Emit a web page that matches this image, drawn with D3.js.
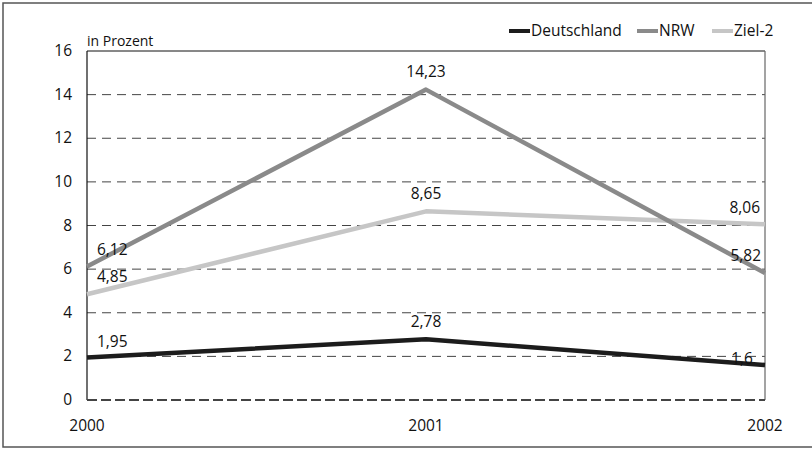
<!DOCTYPE html>
<html>
<head>
<meta charset="utf-8">
<script src="https://cdn.jsdelivr.net/npm/d3@7"></script>
<style>
  body { margin: 0; background: #fff; }
  text { font-family: "Open Sans", sans-serif; fill: #111; }
</style>
</head>
<body>
<div id="chart"></div>
<script>
const years = ["2000", "2001", "2002"];
const deutschland = [1.95, 2.78, 1.6];
const nrw = [6.12, 14.23, 5.82];
const ziel2 = [4.85, 8.65, 8.06];
const yTicks = [0, 2, 4, 6, 8, 10, 12, 14, 16];

const WIDTH = 812, HEIGHT = 449;
const LEFT = 87, RIGHT = 765, TOP = 51, BOTTOM = 400;
const FS = "15.5px";

const series = [
  {name: "Deutschland", values: deutschland, color: "#1c1c1c"},
  {name: "NRW", values: nrw, color: "#8a8a8a"},
  {name: "Ziel-2", values: ziel2, color: "#c6c6c6"}
];

const svg = d3.select("#chart").append("svg")
  .attr("width", WIDTH).attr("height", HEIGHT);

// outer frame
svg.append("rect")
  .attr("x", 3).attr("y", 3).attr("width", WIDTH).attr("height", HEIGHT - 5)
  .attr("fill", "none").attr("stroke", "#555").attr("stroke-width", 1.5);

const x = d3.scalePoint().domain(years).range([LEFT, RIGHT]);
const y = d3.scaleLinear().domain([0, 16]).range([BOTTOM, TOP]);

// grid lines
svg.append("g").selectAll("line")
  .data(yTicks.filter(t => t > 0 && t < 16))
  .join("line")
  .attr("x1", LEFT).attr("x2", RIGHT)
  .attr("y1", d => y(d)).attr("y2", d => y(d))
  .attr("stroke", "#444").attr("stroke-width", 1)
  .attr("stroke-dasharray", "9,6");

// frame of plot
svg.append("line").attr("x1", LEFT).attr("x2", RIGHT).attr("y1", y(16)).attr("y2", y(16))
  .attr("stroke", "#111").attr("stroke-width", 1);
svg.append("line").attr("x1", LEFT).attr("x2", LEFT).attr("y1", y(16)).attr("y2", y(0))
  .attr("stroke", "#111").attr("stroke-width", 1.2);
svg.append("line").attr("x1", RIGHT).attr("x2", RIGHT).attr("y1", y(16)).attr("y2", y(0))
  .attr("stroke", "#666").attr("stroke-width", 1.2);
svg.append("line").attr("x1", LEFT).attr("x2", RIGHT).attr("y1", y(0)).attr("y2", y(0))
  .attr("stroke", "#444").attr("stroke-width", 2)
  .attr("stroke-dasharray", "10,4");

// y axis labels
svg.append("g").selectAll("text")
  .data(yTicks)
  .join("text")
  .attr("x", 72).attr("y", d => y(d) + 5)
  .attr("text-anchor", "end")
  .style("font-size", FS)
  .text(d => d);

svg.append("text").attr("x", LEFT).attr("y", 46)
  .style("font-size", "14px").text("in Prozent");

// x labels
svg.append("g").selectAll("text")
  .data(years)
  .join("text")
  .attr("x", d => x(d)).attr("y", 431)
  .attr("text-anchor", "middle")
  .style("font-size", FS)
  .text(d => d);

// lines (draw light first)
const line = d3.line().x((d, i) => x(years[i])).y(d => y(d));
series.slice().reverse().forEach(s => {
  svg.append("path")
    .datum(s.values)
    .attr("d", line)
    .attr("fill", "none")
    .attr("stroke", s.color)
    .attr("stroke-width", 4.5)
    .attr("stroke-linejoin", "round");
});

// value labels
const fmt = v => String(v).replace(".", ",");
const labelOffsets = {
  "Deutschland": [[10, -10, "start"], [0, -12, "middle"], [-12, -1, "end"]],
  "NRW": [[10, -12, "start"], [0, -13, "middle"], [-4, -12, "end"]],
  "Ziel-2": [[10, -12, "start"], [0, -12, "middle"], [-5, -11, "end"]]
};
series.forEach(s => {
  s.values.forEach((v, i) => {
    const o = labelOffsets[s.name][i];
    svg.append("text")
      .attr("x", x(years[i]) + o[0]).attr("y", y(v) + o[1])
      .attr("text-anchor", o[2])
      .style("font-size", FS)
      .text(fmt(v));
  });
});

// legend
const legendX = [509, 637, 712];
series.forEach((s, i) => {
  svg.append("line")
    .attr("x1", legendX[i]).attr("x2", legendX[i] + 21)
    .attr("y1", 31).attr("y2", 31)
    .attr("stroke", s.color).attr("stroke-width", 4);
  svg.append("text")
    .attr("x", legendX[i] + 22).attr("y", 36)
    .style("font-size", FS)
    .text(s.name);
});
</script>
</body>
</html>
